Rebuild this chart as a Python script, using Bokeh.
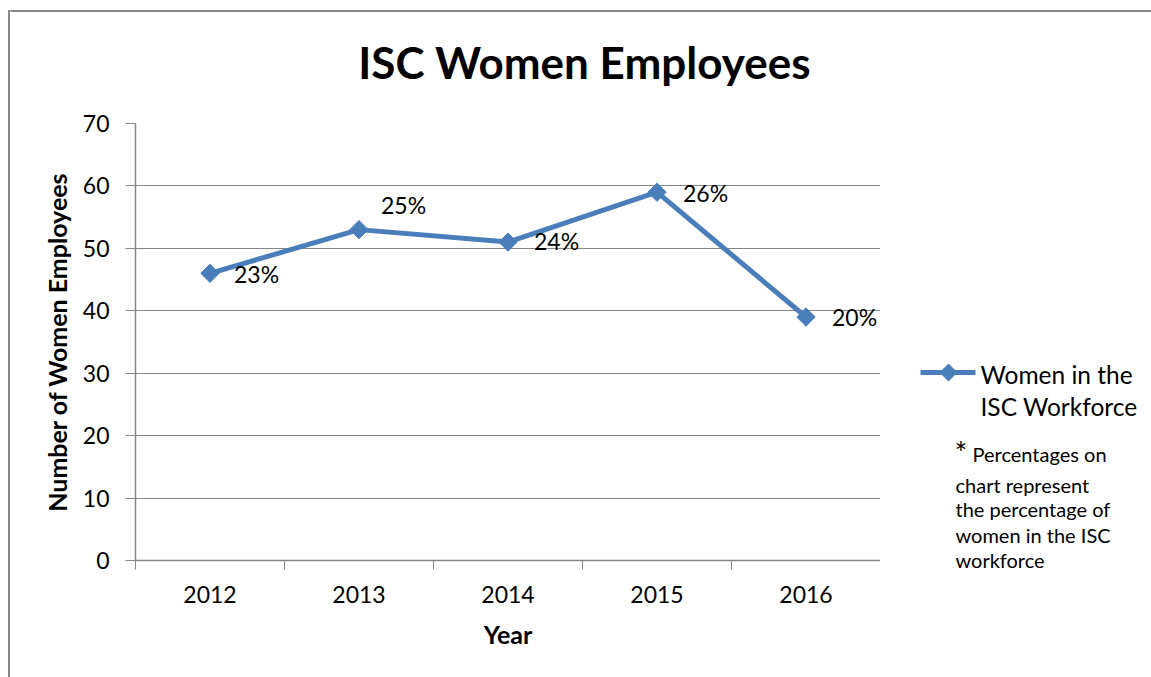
from bokeh.plotting import figure
from bokeh.models import Range1d, FixedTicker, Label, LabelSet, ColumnDataSource
from bokeh.layouts import column, row
from bokeh.core.properties import value
from bokeh.embed import file_html
from bokeh.resources import INLINE
import math

# ---- data ----
years = ["2012", "2013", "2014", "2015", "2016"]
women = [46, 53, 51, 59, 39]
pct_labels = ["23%", "25%", "24%", "26%", "20%"]
y_ticks = [0, 10, 20, 30, 40, 50, 60, 70]
series_name = ["Women in the", "ISC Workforce"]
note_star = "*"
note_lines = ["Percentages on", "chart represent", "the  percentage of",
              "women in the ISC", "workforce"]

# label offsets (style, screen px)
label_dx = [24, 22, 26, 26, 26]
label_dy = [-1, 25, 1, -1, 0]

FONT = "Lato"
GRAY = "#868686"
BLUE = "#4A7EBB"

W, H = 1151, 677
TOP_H = 100          # height of the title strip
LEFT_W = 10          # width of the left border strip
RIGHT_W = 271        # width of the legend / note panel
MAIN_W = W - LEFT_W - RIGHT_W
ROW_H = H - TOP_H


def blank(width, height, xr, yr):
    f = figure(width=width, height=height, output_backend="svg", toolbar_location=None,
               x_range=Range1d(*xr), y_range=Range1d(*yr),
               x_axis_type=None, y_axis_type=None, min_border=0, frame_align=False)
    f.outline_line_color = None
    f.grid.visible = False
    f.background_fill_color = "white"
    f.border_fill_color = "white"
    return f


# ---- left border strip, full height (coordinates = page pixels) ----
left = blank(LEFT_W, H, (0, LEFT_W), (H, 0))
left.segment(x0=[8.5], y0=[9.5], x1=[8.5], y1=[H + 5], line_color=GRAY, line_width=2)
left.segment(x0=[7.5], y0=[10.5], x1=[LEFT_W + 5], y1=[10.5], line_color=GRAY, line_width=2)

# ---- title strip ----
top = blank(W - LEFT_W, TOP_H, (LEFT_W, W), (TOP_H, 0))
top.segment(x0=[LEFT_W - 5], y0=[10.5], x1=[W + 5], y1=[10.5], line_color=GRAY, line_width=2)
top.add_layout(Label(x=584, y=61, text="ISC Women Employees", text_font=FONT,
                     text_font_style="bold", text_font_size="44px", text_align="center",
                     text_baseline="middle", text_color="black"))

# ---- main chart ----
xs = [i + 0.5 for i in range(len(years))]
src = ColumnDataSource(dict(x=xs, y=women, t=pct_labels, dx=label_dx, dy=label_dy))

p = figure(width=MAIN_W, height=ROW_H, output_backend="svg", toolbar_location=None,
           x_range=Range1d(0, len(years)), y_range=Range1d(0, 70), frame_align=False,
           min_border_left=135 - LEFT_W, min_border_right=0, min_border_top=123 - TOP_H,
           min_border_bottom=H - 560)
p.outline_line_color = None
p.background_fill_color = "white"
p.border_fill_color = "white"

p.xaxis.ticker = FixedTicker(ticks=xs, minor_ticks=list(range(len(years) + 1)))
p.xaxis.major_label_overrides = {x: y for x, y in zip(xs, years)}
p.xaxis.major_tick_line_color = None
p.xaxis.minor_tick_line_color = GRAY
p.xaxis.minor_tick_in = 0
p.xaxis.minor_tick_out = 9
p.xaxis.axis_line_color = GRAY
p.xaxis.axis_line_width = 1.5
p.xaxis.major_label_text_font = FONT
p.xaxis.major_label_text_font_size = "23px"
p.xaxis.major_label_text_color = "black"
p.xaxis.major_label_standoff = 16
p.xaxis.axis_label = "Year"
p.xaxis.axis_label_text_font = FONT
p.xaxis.axis_label_text_font_style = "bold"
p.xaxis.axis_label_text_font_size = "25px"
p.xaxis.axis_label_text_color = "black"
p.xaxis.axis_label_standoff = 13

p.yaxis.ticker = FixedTicker(ticks=y_ticks, minor_ticks=[])
p.yaxis.major_tick_line_color = GRAY
p.yaxis.major_tick_in = 0
p.yaxis.major_tick_out = 10
p.yaxis.axis_line_color = GRAY
p.yaxis.axis_line_width = 1.5
p.yaxis.major_label_text_font = FONT
p.yaxis.major_label_text_font_size = "23px"
p.yaxis.major_label_text_color = "black"
p.yaxis.major_label_standoff = 16
p.yaxis.axis_label = "Number of Women Employees"
p.yaxis.axis_label_text_font = FONT
p.yaxis.axis_label_text_font_style = "bold"
p.yaxis.axis_label_text_font_size = "25px"
p.yaxis.axis_label_text_color = "black"
p.yaxis.axis_label_standoff = 8

p.xgrid.grid_line_color = None
p.ygrid.ticker = FixedTicker(ticks=y_ticks)
p.ygrid.grid_line_color = GRAY
p.ygrid.grid_line_width = 1.2

p.line("x", "y", source=src, line_color=BLUE, line_width=5)
p.scatter("x", "y", source=src, marker="square", angle=math.pi / 4, size=13,
          fill_color=BLUE, line_color=BLUE)

p.add_layout(LabelSet(x="x", y="y", text="t", source=src, x_offset="dx", y_offset="dy",
                      text_font=value(FONT), text_font_size=value("23px"),
                      text_color="black", text_align="left", text_baseline="middle"))

# ---- legend / note panel (coordinates = page pixels) ----
r = blank(RIGHT_W, ROW_H, (W - RIGHT_W, W), (H, TOP_H))
# legend key
r.segment(x0=[920], y0=[372], x1=[975], y1=[372], line_color=BLUE, line_width=5)
r.scatter(x=[948], y=[372], marker="square", angle=math.pi / 4, size=12,
          fill_color=BLUE, line_color=BLUE)
r.add_layout(Label(x=980, y=374, text=series_name[0], text_font=FONT, text_font_size="24.5px",
                   text_baseline="middle", text_color="black"))
r.add_layout(Label(x=980, y=406, text=series_name[1], text_font=FONT, text_font_size="24.5px",
                   text_baseline="middle", text_color="black"))
# note
r.add_layout(Label(x=954, y=451, text=note_star, text_font=FONT, text_font_size="30px",
                   text_baseline="middle", text_color="black"))
note_x = [972, 955, 955, 955, 955]
note_y = [453, 484, 508, 534, 559]
for txt, x, y in zip(note_lines, note_x, note_y):
    r.add_layout(Label(x=x, y=y, text=txt, text_font=FONT, text_font_size="20px",
                       text_baseline="middle", text_color="black"))

layout = row(left, column(top, row(p, r, spacing=0), spacing=0), spacing=0)
open("out.html", "w").write(file_html(layout, INLINE))
